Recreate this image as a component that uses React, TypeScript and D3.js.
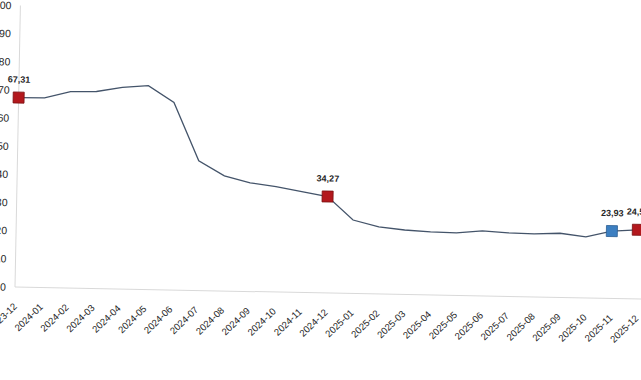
import React from "react";
import * as d3 from "d3";

const months = [
  "2023-12","2024-01","2024-02","2024-03","2024-04","2024-05","2024-06",
  "2024-07","2024-08","2024-09","2024-10","2024-11","2024-12",
  "2025-01","2025-02","2025-03","2025-04","2025-05","2025-06",
  "2025-07","2025-08","2025-09","2025-10","2025-11","2025-12",
];
const values = [
  67.31, 67.4, 69.8, 70.0, 71.6, 72.4, 66.6,
  46.1, 40.9, 38.6, 37.4, 35.8, 34.27,
  26.1, 23.8, 22.9, 22.4, 22.2, 23.1,
  22.6, 22.4, 22.8, 21.7, 23.93, 24.56,
];
const yTicks = [0, 10, 20, 30, 40, 50, 60, 70, 80, 90, 100];
const redMarks = ["2023-12", "2024-12", "2025-12"];
const blueMarks = ["2025-11"];

const fmt = (v: number) => v.toFixed(2).replace(".", ",");

export default function App() {
  const ox = 15, oy = 287, angle = 1.1;
  const x = d3.scalePoint<string>().domain(months).range([0, 25.9 * (months.length - 1)]);
  const y = d3.scaleLinear().domain([0, 100]).range([0, -281.5]);
  const line = d3.line<number>().x((_, i) => x(months[i])!).y((v) => y(v));
  const marked = [...redMarks, ...blueMarks];
  return (
    <svg width={641} height={380} style={{ position: "absolute", left: 0, top: 0, background: "#fff" }}
      fontFamily="'Liberation Sans', Arial, sans-serif">
      <rect width={641} height={380} fill="#fff" />
      <g transform={`translate(${ox},${oy}) rotate(${angle})`}>
        <line x1={0} y1={0} x2={0} y2={y(100)} stroke="#d9d9d9" strokeWidth={1} />
        <line x1={0} y1={0} x2={700} y2={0} stroke="#d9d9d9" strokeWidth={1} />
        {yTicks.map((t) => (
          <text key={t} x={-9} y={y(t)} dy="0.35em" textAnchor="end" fontSize={10.5} fill="#262626">{t}</text>
        ))}
        {months.map((m) => (
          <text key={m} transform={`translate(${x(m)! + 3},${20}) rotate(-45)`} textAnchor="end"
            fontSize={9.5} fill="#262626">{m}</text>
        ))}
        <path d={line(values)!} fill="none" stroke="#44546a" strokeWidth={1.3} />
        {months.map((m, i) => {
          if (!marked.includes(m)) return null;
          const isBlue = blueMarks.includes(m);
          return (
            <g key={m}>
              <rect x={x(m)! - 5.5} y={y(values[i]) - 5.5} width={11} height={11}
                fill={isBlue ? "#3c7fc1" : "#b3181d"} stroke={isBlue ? "#2b5f93" : "#7a1012"} strokeWidth={0.8} />
              <text x={x(m)!} y={y(values[i]) - 15} textAnchor="middle" fontSize={9} fontWeight="bold" fill="#262626">
                {fmt(values[i])}
              </text>
            </g>
          );
        })}
      </g>
    </svg>
  );
}
